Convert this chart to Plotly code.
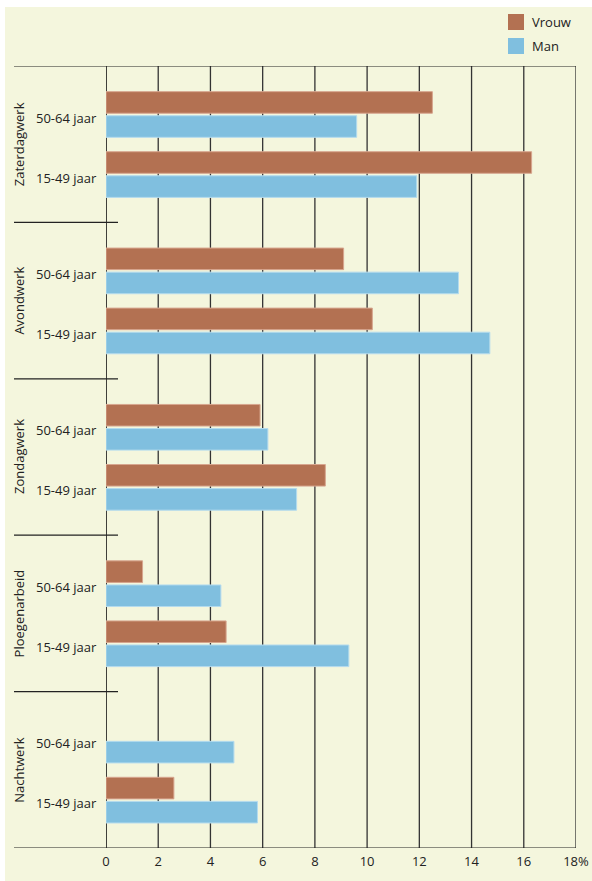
import plotly.graph_objects as go

# Categories (top to bottom) and age groups within each category
categories = ["Zaterdagwerk", "Avondwerk", "Zondagwerk", "Ploegenarbeid", "Nachtwerk"]
age_groups = ["50-64 jaar", "15-49 jaar"]

# Percentages per category, ordered as age_groups
vrouw = [
    [12.5, 16.3],
    [9.1, 10.2],
    [5.9, 8.4],
    [1.4, 4.6],
    [None, 2.6],
]
man = [
    [9.6, 11.9],
    [13.5, 14.7],
    [6.2, 7.3],
    [4.4, 9.3],
    [4.9, 5.8],
]

tick_vals = [0, 2, 4, 6, 8, 10, 12, 14, 16, 18]
tick_text = ["0", "2", "4", "6", "8", "10", "12", "14", "16", "18%"]

COL_VROUW = "#b37152"
COL_MAN = "#80bfdf"
BG = "#f4f6dd"
FONT = "Open Sans"

W, H = 592, 881
ML, MR, MT, MB = 106, 16, 66, 33
PW = W - ML - MR
PH = H - MT - MB

# vertical layout inside each category block (in block units)
pair_pos = [0.310, 0.694]
half_step = 0.077
bar_w = 0.138


def px_to_paper_x(px):
    return (px - ML) / PW


def px_to_paper_y(py):
    return 1 - (py - MT) / PH


yv, xv, ym, xm = [], [], [], []
for g, cat in enumerate(categories):
    for a, age in enumerate(age_groups):
        yc = g + pair_pos[a]
        yv.append(yc - half_step)
        xv.append(vrouw[g][a])
        ym.append(yc + half_step)
        xm.append(man[g][a])

fig = go.Figure()
fig.add_trace(go.Bar(
    name="Vrouw", orientation="h", x=xv, y=yv, width=bar_w,
    marker=dict(color=COL_VROUW, line=dict(color="#d7a68f", width=1)),
))
fig.add_trace(go.Bar(
    name="Man", orientation="h", x=xm, y=ym, width=bar_w,
    marker=dict(color=COL_MAN, line=dict(color="#b4dbee", width=1)),
))

shapes = []
# panel background
shapes.append(dict(type="rect", xref="paper", yref="paper",
                   x0=px_to_paper_x(5), x1=px_to_paper_x(W), y0=px_to_paper_y(H), y1=px_to_paper_y(7),
                   fillcolor=BG, line=dict(width=0), layer="below"))
# vertical grid lines
for t in tick_vals:
    shapes.append(dict(type="line", xref="x", yref="y", x0=t, x1=t, y0=0, y1=len(categories),
                       line=dict(color="#333" if t else "#111", width=1.6 if t == 0 else 1.3),
                       layer="below"))
# top and bottom frame lines
for yy in (0, len(categories)):
    shapes.append(dict(type="line", xref="paper", yref="y", x0=px_to_paper_x(14), x1=1, y0=yy, y1=yy,
                       line=dict(color="#222", width=1.2)))
# separators between categories
for g in range(1, len(categories)):
    shapes.append(dict(type="line", xref="paper", yref="y", x0=px_to_paper_x(14), x1=px_to_paper_x(118),
                       y0=g, y1=g, line=dict(color="#222", width=1.2)))

annotations = []
for g, cat in enumerate(categories):
    annotations.append(dict(text=cat, xref="paper", yref="y", x=px_to_paper_x(19), y=g + 0.5,
                            textangle=-90, showarrow=False, xanchor="center", yanchor="middle",
                            font=dict(family=FONT, size=13, color="#222")))
    for a, age in enumerate(age_groups):
        annotations.append(dict(text=age, xref="paper", yref="y", x=px_to_paper_x(99), y=g + pair_pos[a] + 0.02,
                                showarrow=False, xanchor="right", yanchor="middle",
                                font=dict(family=FONT, size=13, color="#222")))

# legend
for i, (name, col) in enumerate([("Vrouw", COL_VROUW), ("Man", COL_MAN)]):
    top = 14 + i * 24
    shapes.append(dict(type="rect", xref="paper", yref="paper",
                       x0=px_to_paper_x(508), x1=px_to_paper_x(524),
                       y0=px_to_paper_y(top + 16), y1=px_to_paper_y(top),
                       fillcolor=col, line=dict(width=0)))
    annotations.append(dict(text=name, xref="paper", yref="paper", x=px_to_paper_x(530),
                            y=px_to_paper_y(top + 8), showarrow=False, xanchor="left", yanchor="middle",
                            font=dict(family=FONT, size=13, color="#222")))

fig.update_layout(
    width=W, height=H,
    margin=dict(l=ML, r=MR, t=MT, b=MB, pad=0, autoexpand=False),
    paper_bgcolor="white", plot_bgcolor="rgba(0,0,0,0)",
    barmode="overlay", showlegend=False,
    shapes=shapes, annotations=annotations,
    font=dict(family=FONT, size=13, color="#222"),
    xaxis=dict(range=[0, 18], tickvals=tick_vals, ticktext=tick_text, showgrid=False,
               zeroline=False, showline=False, ticks="", ticklabelstandoff=4, automargin=False,
               tickfont=dict(family=FONT, size=13, color="#222")),
    yaxis=dict(range=[len(categories), 0], showgrid=False, zeroline=False, showticklabels=False,
               showline=False, ticks="", automargin=False),
)

fig.write_html("out.html")
